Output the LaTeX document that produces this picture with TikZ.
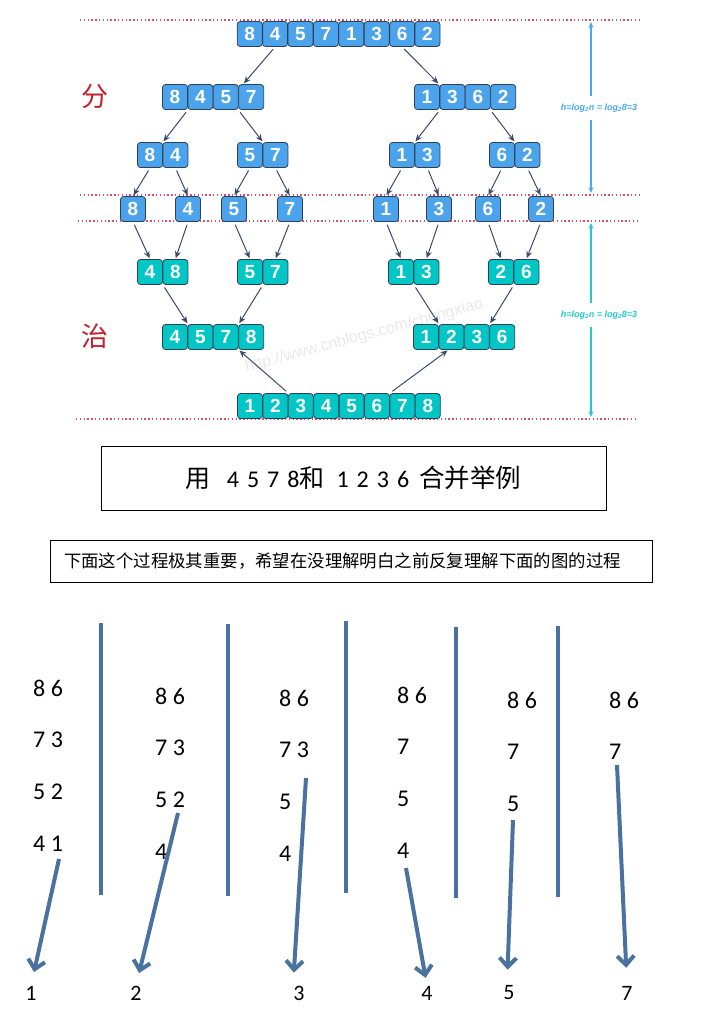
\documentclass[tikz,border=0pt]{standalone}
\usepackage{fontspec}
\setmainfont{Carlito}
\newfontfamily\cjkfont{Noto Sans CJK SC}
\newfontfamily\cellfont{Liberation Sans}
\usetikzlibrary{arrows.meta, calc}
\definecolor{cellblue}{HTML}{4BA3EB}
\definecolor{cellteal}{HTML}{00C6C6}
\definecolor{celledge}{HTML}{2E3F57}
\definecolor{treearrow}{HTML}{3B4A68}
\definecolor{dotred}{HTML}{D2506A}
\definecolor{hblue}{HTML}{4AA8F0}
\definecolor{hteal}{HTML}{22CACA}
\definecolor{hanred}{HTML}{C0222E}
\definecolor{barblue}{HTML}{4A72A0}

% one row of touching cells: prefix, x of first cell, y, values, style
\newcommand{\cellrow}[5]{%
  \foreach \v [count=\i] in {#4} {
    \node[#5] (#1\i) at ({#2+25.4*(\i-1)},#3) {\v};
  }%
}
% spaced digits in the example box
\newcommand{\dg}{\hspace{8pt}}

\begin{document}
\begin{tikzpicture}[x=1pt, y=-1pt,
  bcell/.style={draw=celledge, fill=cellblue, line width=0.8pt, rounded corners=3pt,
    minimum width=25pt, minimum height=25pt, inner sep=0pt, text=white,
    font=\cellfont\bfseries\fontsize{19}{19}\selectfont},
  tcell/.style={bcell, fill=cellteal},
  tarr/.style={-{Stealth[length=7pt, width=6pt]}, treearrow, line width=1pt,
    shorten <=3pt, shorten >=1pt},
  redline/.style={dotred, line width=1.4pt, dash pattern=on 1.4pt off 2.4pt},
  hdim/.style={{Stealth[length=6pt, width=5pt]}-{Stealth[length=6pt, width=5pt]}, line width=1.2pt},
  hlabel/.style={fill=white, minimum height=24pt, inner xsep=1pt,
    font=\cellfont\bfseries\itshape\fontsize{9}{9}\selectfont},
  bar/.style={barblue, line width=3.6pt},
  barr/.style={-{Straight Barb[length=9pt, width=17pt]}, barblue, line width=4pt},
  num/.style={anchor=west, inner sep=0pt, font=\fontsize{24}{24}\selectfont},
  lab/.style={inner sep=0pt, font=\fontsize{22}{22}\selectfont}
]
\useasboundingbox (0,0) rectangle (703,1036);

% Dotted separators
\draw[redline] (80,20) -- (640,20);
\draw[redline] (80,195) -- (640,195);
\draw[redline] (78,221) -- (638,221);
\draw[redline] (76,419) -- (636,419);

% Height markers on the right
\coordinate (htop) at (591,22);
\coordinate (hbot) at (591,193);
\draw[hdim, hblue] (htop) -- (hbot);
\node[hlabel, text=hblue] (hdiv) at (599,108) {h=log\textsubscript{2}n = log\textsubscript{2}8=3};
\coordinate (mtop) at (591,223);
\coordinate (mbot) at (591,417);
\draw[hdim, hteal] (mtop) -- (mbot);
\node[hlabel, text=hteal] (hmrg) at (599,315) {h=log\textsubscript{2}n = log\textsubscript{2}8=3};

% Side captions
\node[text=hanred, font=\cjkfont\fontsize{27}{27}\selectfont] (fen) at (95,97) {分};
\node[text=hanred, font=\cjkfont\fontsize{27}{27}\selectfont] (zhi) at (95,336) {治};

% Watermark
\node[rotate=15, text=black!9, font=\cellfont\fontsize{16}{16}\selectfont] (wm) at (364,336)
  {http://www.cnblogs.com/chengxiao};

% Divide
\cellrow{t}{249.7}{34}{8,4,5,7,1,3,6,2}{bcell}
\cellrow{la}{175}{97}{8,4,5,7}{bcell}
\cellrow{ra}{427}{97}{1,3,6,2}{bcell}
\cellrow{lb}{150}{155}{8,4}{bcell}
\cellrow{lc}{250}{155}{5,7}{bcell}
\cellrow{rb}{402}{155}{1,3}{bcell}
\cellrow{rc}{502}{155}{6,2}{bcell}
\foreach \v/\x [count=\i] in {8/133,4/188,5/234,7/290,1/386,3/439,6/488,2/541}
  \node[bcell] (s\i) at (\x,209) {\v};

% Conquer
\cellrow{ma}{150}{272}{4,8}{tcell}
\cellrow{mb}{250}{272}{5,7}{tcell}
\cellrow{mc}{401}{272}{1,3}{tcell}
\cellrow{md}{501}{272}{2,6}{tcell}
\cellrow{ml}{175}{337}{4,5,7,8}{tcell}
\cellrow{mr}{426}{337}{1,2,3,6}{tcell}
\cellrow{f}{250}{406}{1,2,3,4,5,6,7,8}{tcell}

% Tree arrows
\draw[tarr] (t2.south) -- ([xshift=-8pt]la4.north);
\draw[tarr] (t7.south) -- ([xshift=12pt]ra1.north);
\draw[tarr] (la1.south east) -- (lb1.north east);
\draw[tarr] (la4.south west) -- (lc1.north east);
\draw[tarr] (ra1.south east) -- (rb1.north east);
\draw[tarr] (ra4.south west) -- (rc1.north east);
\foreach \p/\c in {lb1/s1, lb2/s2, lc1/s3, lc2/s4, rb1/s5, rb2/s6, rc1/s7, rc2/s8}
  \draw[tarr] (\p.south) -- (\c.north);
\foreach \p/\c in {s1/ma1, s2/ma2, s3/mb1, s4/mb2, s5/mc1, s6/mc2, s7/md1, s8/md2}
  \draw[tarr] (\p.south) -- (\c.north);
\draw[tarr] (ma1.south east) -- (ml1.north east);
\draw[tarr] (mb1.south east) -- (ml3.north east);
\draw[tarr] (mc1.south east) -- (mr1.north east);
\draw[tarr] (md1.south east) -- (mr3.north east);
\draw[tarr] (f2.north east) -- (ml3.south east);
\draw[tarr] (f6.north east) -- ([xshift=-3pt]mr2.south);

% Example boxes
\node[draw, line width=0.8pt, minimum width=505pt, minimum height=64pt, inner sep=0pt,
  font=\fontsize{24}{24}\selectfont] (ex) at (353.5,478)
  {{\cjkfont\fontsize{25}{25}\selectfont 用}\hspace{16pt}4\dg5\dg7\dg8{\cjkfont\fontsize{25}{25}\selectfont 和}\hspace{12pt}1\dg2\dg3\dg6\hspace{10pt}{\cjkfont\fontsize{25.5}{25}\selectfont 合并举例}};
\node[draw, line width=0.8pt, minimum height=42pt, text width=574pt, inner xsep=14pt,
  align=left, font=\cjkfont\fontsize{17.4}{20}\selectfont] (note) at (351,561)
  {下面这个过程极其重要，希望在没理解明白之前反复理解下面的图的过程};

% Merge steps: separators
\foreach \x/\ya/\yb in {101/623/895, 228/624/896, 346/621/893, 456/627/898, 558/626/897}
  \draw[bar] (\x,\ya) -- (\x,\yb);

% Merge steps: remaining numbers
\foreach \t [count=\j] in {8 6,7 3,5 2,4 1}
  \node[num] (ka\j) at (33,{688+52*(\j-1)}) {\t};
\foreach \t [count=\j] in {8 6,7 3,5 2,4}
  \node[num] (kb\j) at (155,{696+52*(\j-1)}) {\t};
\foreach \t [count=\j] in {8 6,7 3,5,4}
  \node[num] (kc\j) at (279,{698+52*(\j-1)}) {\t};
\foreach \t [count=\j] in {8 6,7,5,4}
  \node[num] (kd\j) at (397,{695+52*(\j-1)}) {\t};
\foreach \t [count=\j] in {8 6,7,5}
  \node[num] (ke\j) at (507,{700+52*(\j-1)}) {\t};
\foreach \t [count=\j] in {8 6,7}
  \node[num] (kf\j) at (609,{700+52*(\j-1)}) {\t};

% Merge steps: output
\node[lab] (r1) at (31,993) {1};
\node[lab] (r2) at (136,993) {2};
\node[lab] (r3) at (299,993) {3};
\node[lab] (r4) at (427,993) {4};
\node[lab] (r5) at (509,993) {5};
\node[lab] (r6) at (627,993) {7};

\coordinate (a1) at (59,859);
\coordinate (a2) at (178,813);
\coordinate (a3) at (306,778);
\coordinate (a4) at (406,868);
\coordinate (a5) at (513,820);
\coordinate (a6) at (617,765);
\draw[barr, shorten >=14pt] (a1) -- (r1.north);
\draw[barr, shorten >=13pt] (a2) -- (r2.north);
\draw[barr, shorten >=13pt] (a3) -- ([xshift=-6pt]r3.north);
\draw[barr, shorten >=8pt] (a4) -- (r4.north);
\draw[barr, shorten >=16pt] (a5) -- ([xshift=-2pt]r5.north);
\draw[barr, shorten >=18pt] (a6) -- (r6.north);

\end{tikzpicture}
\end{document}
